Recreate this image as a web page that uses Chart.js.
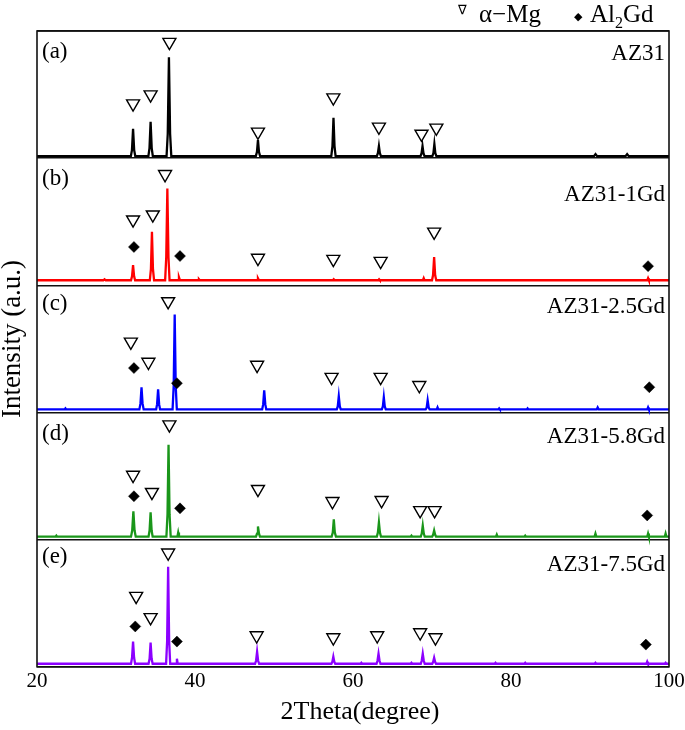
<!DOCTYPE html>
<html>
<head>
<meta charset="utf-8">
<script src="https://cdn.jsdelivr.net/npm/chart.js@4.4.1/dist/chart.umd.min.js"></script>
<style>
html,body{margin:0;padding:0;background:#fff;}
canvas{display:block;}
</style>
</head>
<body>
<canvas id="c" width="685" height="730"></canvas>
<script>
// ---- data (2θ in degrees, intensity in a.u. above each panel's bottom) ----
const samples = ['AZ31', 'AZ31-1Gd', 'AZ31-2.5Gd', 'AZ31-5.8Gd', 'AZ31-7.5Gd'];
const panelTags = ['(a)', '(b)', '(c)', '(d)', '(e)'];
const xTicks = [20, 40, 60, 80, 100];
const legendMg = 'α\u2212Mg';
const legendAl = ['Al', '2', 'Gd'];

const az31 = [[20,2],[25,2],[31.88,2],[32.02,8],[32.16,29],[32.3,8],[32.44,2],
 [34.1,2],[34.24,10],[34.38,36],[34.52,10],[34.66,2],
 [36.4,2],[36.55,24],[36.7,100],[36.85,24],[37.0,2],
 [47.7,2],[47.84,6],[47.97,18],[48.1,6],[48.24,2],
 [57.25,2],[57.4,12],[57.53,40],[57.66,12],[57.8,2],
 [63.02,2],[63.15,5],[63.28,12],[63.4,5],[63.54,2],
 [68.55,2],[68.68,5],[68.8,12],[68.92,5],[69.05,2],
 [70.05,2],[70.18,5],[70.3,14],[70.42,5],[70.55,2],
 [90.5,2],[90.7,4],[90.9,2],[94.5,2],[94.7,4],[94.9,2],[100,2]];

const az31_1gd = [[20,5],[28.4,5],[28.55,6],[28.7,5],[31.9,5],[32.03,9],[32.16,20],[32.29,9],[32.42,5],
 [34.28,5],[34.42,16],[34.55,53],[34.68,16],[34.82,5],
 [36.22,5],[36.36,28],[36.5,96],[36.64,28],[36.78,5],
 [37.85,5],[37.97,8],[38.1,5],[40.4,5],[40.5,6],[40.6,5],
 [47.85,5],[47.97,7],[48.1,5],
 [57.45,5],[57.56,6],[57.68,5],
 [63.2,5],[63.3,6],[63.4,5],
 [68.85,5],[68.95,7],[69.05,5],
 [70.0,5],[70.13,10],[70.27,28],[70.4,10],[70.54,5],
 [97.25,5],[97.35,7],[97.45,5],[100,5]];

const az31_25gd = [[20,3],[23.5,3],[23.6,4],[23.7,3],
 [32.96,3],[33.1,9],[33.23,25],[33.36,9],[33.5,3],
 [35.08,3],[35.2,8],[35.33,23],[35.46,8],[35.58,3],
 [37.16,3],[37.3,26],[37.43,97],[37.56,26],[37.7,3],
 [48.5,3],[48.63,8],[48.76,22],[48.9,8],[49.02,3],
 [57.95,3],[58.07,6],[58.2,16],[58.33,6],[58.45,3],
 [63.65,3],[63.78,6],[63.9,15],[64.02,6],[64.15,3],
 [69.2,3],[69.33,5],[69.45,12],[69.58,5],[69.7,3],
 [70.6,3],[70.7,5],[70.8,3],
 [78.4,3],[78.5,4],[78.6,3],[82.0,3],[82.1,4],[82.2,3],
 [90.85,3],[90.97,5],[91.1,3],[97.25,3],[97.35,5],[97.45,3],[100,3]];

const az31_58gd = [[20,3],[22.35,3],[22.45,4],[22.55,3],
 [31.9,3],[32.05,9],[32.2,28],[32.35,9],[32.5,3],
 [34.12,3],[34.25,9],[34.38,27],[34.51,9],[34.64,3],
 [36.38,3],[36.52,25],[36.65,94],[36.78,25],[36.92,3],
 [37.77,3],[37.87,7],[37.97,3],
 [47.72,3],[47.85,6],[47.97,13],[48.1,6],[48.22,3],
 [57.3,3],[57.44,7],[57.57,20],[57.7,7],[57.84,3],
 [63.02,3],[63.15,7],[63.28,17],[63.41,7],[63.54,3],
 [67.3,3],[67.4,4],[67.5,3],
 [68.58,3],[68.7,6],[68.83,14],[68.96,6],[69.08,3],
 [70.03,3],[70.15,5],[70.27,9],[70.39,5],[70.51,3],
 [78.1,3],[78.2,5],[78.3,3],[81.7,3],[81.8,4],[81.9,3],
 [90.58,3],[90.69,6],[90.8,3],[97.25,3],[97.35,6],[97.45,3],[99.47,3],[99.57,6],[99.67,3],[100,3]];

const az31_75gd = [[20,3],
 [31.9,3],[32.03,9],[32.16,25],[32.29,9],[32.42,3],
 [34.12,3],[34.25,8],[34.38,24],[34.51,8],[34.64,3],
 [36.34,3],[36.47,25],[36.6,99],[36.73,25],[36.86,3],
 [37.61,3],[37.71,8],[37.81,3],
 [47.6,3],[47.73,6],[47.86,15],[47.99,6],[48.12,3],
 [57.27,3],[57.39,5],[57.51,10],[57.63,5],[57.75,3],
 [60.96,3],[61.06,4],[61.16,3],
 [62.98,3],[63.1,6],[63.23,13],[63.36,6],[63.48,3],
 [67.3,3],[67.4,4],[67.5,3],
 [68.58,3],[68.7,6],[68.83,13],[68.96,6],[69.08,3],
 [70.03,3],[70.15,5],[70.27,9],[70.39,5],[70.51,3],
 [77.94,3],[78.04,4],[78.14,3],[81.7,3],[81.8,4],[81.9,3],
 [90.59,3],[90.69,4],[90.79,3],[97.14,3],[97.24,5],[97.34,3],[99.47,3],[99.57,4],[99.67,3],[100,3]];

// phase markers (∇ α-Mg, ◆ Al2Gd) : [2θ, height above panel bottom]
const mg_a = [[32.16,54],[34.38,63],[36.76,115],[47.97,26],[57.51,60],[63.28,31],[68.67,24],[70.55,30]];
const al_a = [];
const mg_b = [[32.16,65],[34.66,70],[36.21,110],[47.97,27],[57.51,26],[63.5,24],[70.27,53]];
const al_b = [[32.27,38],[38.1,29],[97.35,19]];
const mg_c = [[31.88,70],[34.1,50],[36.6,110],[47.86,47],[57.29,35],[63.5,35],[68.39,27]];
const al_c = [[32.27,44],[37.71,29],[97.51,25]];
const mg_d = [[32.16,64],[34.55,47],[36.76,114],[47.97,50],[57.4,38],[63.62,39],[68.5,29],[70.33,29]];
const al_d = [[32.27,43],[38.1,31],[97.24,24]];
const mg_e = [[32.55,70],[34.38,49],[36.6,113],[47.8,31],[57.51,29],[63.06,31],[68.5,34],[70.44,29]];
const al_e = [[32.44,40],[37.71,25],[97.07,22]];

// ---- build ----
const PANEL = 126;
const NP = 5;
const series = [az31, az31_1gd, az31_25gd, az31_58gd, az31_75gd];
const mgSets = [mg_a, mg_b, mg_c, mg_d, mg_e];
const alSets = [al_a, al_b, al_c, al_d, al_e];
const colors = ['#000000', '#ff0000', '#0000ff', '#1a961a', '#8c00ff'];

const datasets = [];
for (let i = 0; i < NP; i++) {
  const off = (NP - 1 - i) * PANEL;
  datasets.push({
    label: 'mg' + i, data: mgSets[i].map(([a, v]) => ({x: a, y: v + off})),
    showLine: false, pointStyle: 'triangle', rotation: 180, pointRadius: 7.5,
    pointBackgroundColor: '#fff', pointBorderColor: '#000', pointBorderWidth: 1.4, order: 0
  });
  datasets.push({
    label: 'al' + i, data: alSets[i].map(([a, v]) => ({x: a, y: v + off})),
    showLine: false, pointStyle: 'rectRot', pointRadius: 5.5,
    pointBackgroundColor: '#000', pointBorderColor: '#000', pointBorderWidth: 0.5, order: 0
  });
  datasets.push({
    label: samples[i], data: series[i].map(([a, v]) => ({x: a, y: v + off})),
    borderColor: colors[i], borderWidth: 2.3, pointRadius: 0, tension: 0, fill: false, order: 1
  });
}

const deco = {
  id: 'deco',
  afterDraw(chart) {
    const {ctx, chartArea: ca, scales: {y}} = chart;
    ctx.save();
    ctx.strokeStyle = '#111';
    ctx.lineWidth = 1.6;
    ctx.strokeRect(ca.left, ca.top, ca.right - ca.left, ca.bottom - ca.top);
    ctx.fillStyle = '#000';
    const serif = '"Liberation Serif", "Times New Roman", serif';
    const tagBase = [27, 27, 25, 28, 23];
    const nameBase = [29, 43, 28, 31, 31];
    for (let i = 0; i < NP; i++) {
      const top = y.getPixelForValue((NP - i) * PANEL);
      ctx.font = '23px ' + serif;
      ctx.textBaseline = 'alphabetic';
      ctx.textAlign = 'left';
      ctx.fillText(panelTags[i], ca.left + 5, top + tagBase[i]);
      ctx.textAlign = 'right';
      ctx.fillText(samples[i], ca.right - 4, top + nameBase[i]);
    }
    // legend
    ctx.textAlign = 'left';
    ctx.textBaseline = 'alphabetic';
    ctx.font = '13px "DejaVu Sans"';
    ctx.fillText('∇', 458, 14);
    ctx.font = '25px ' + serif;
    ctx.fillText(legendMg, 479, 22);
    ctx.font = '11px "DejaVu Sans"';
    ctx.fillText('◆', 574, 20);
    ctx.font = '25px ' + serif;
    let xx = 590;
    ctx.fillText(legendAl[0], xx, 22); xx += ctx.measureText(legendAl[0]).width;
    ctx.font = '16px ' + serif;
    ctx.fillText(legendAl[1], xx, 28); xx += ctx.measureText(legendAl[1]).width;
    ctx.font = '25px ' + serif;
    ctx.fillText(legendAl[2], xx, 22);
    // axis titles
    ctx.textAlign = 'center';
    ctx.textBaseline = 'middle';
    ctx.font = '26px ' + serif;
    ctx.fillText('2Theta(degree)', 360, 712);
    ctx.translate(13, 339);
    ctx.rotate(-Math.PI / 2);
    ctx.font = '27px ' + serif;
    ctx.fillText('Intensity (a.u.)', 0, 0);
    ctx.restore();
  }
};

new Chart(document.getElementById('c'), {
  type: 'line',
  data: {datasets},
  options: {
    responsive: false,
    animation: false,
    layout: {padding: {left: 37, right: 16, top: 31, bottom: 34}},
    plugins: {legend: {display: false}, tooltip: {enabled: false}},
    scales: {
      x: {
        type: 'linear', min: 20, max: 100,
        afterBuildTicks: s => { s.ticks = xTicks.map(v => ({value: v})); },
        afterFit: s => { s.paddingLeft = 0; s.paddingRight = 0; },
        ticks: {color: '#000', font: {family: 'Liberation Serif', size: 21}, padding: 2, maxRotation: 0},
        grid: {display: false, drawTicks: false},
        border: {display: false}
      },
      y: {
        type: 'linear', min: 0, max: NP * PANEL,
        ticks: {display: false, stepSize: PANEL},
        grid: {color: '#111', lineWidth: 1.6, drawTicks: false},
        border: {display: false}
      }
    }
  },
  plugins: [deco]
});
</script>
</body>
</html>
